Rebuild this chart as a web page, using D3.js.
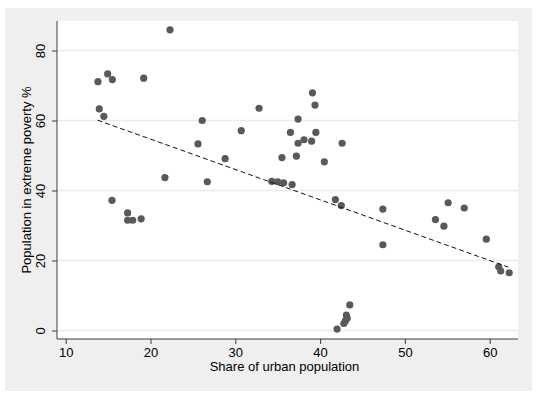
<!DOCTYPE html>
<html lang="en">
<head>
<meta charset="UTF-8">
<title>Urban share vs extreme poverty</title>
<script src="https://d3js.org/d3.v7.min.js"></script>
<style>
    body { margin: 0; background: #fff; }
    text { font-family: "Liberation Sans", Arial, sans-serif; fill: #000; }
    .axis path, .axis line { stroke: #3c3c3c; }
    .axis text { font-size: 13px; }
</style>
</head>
<body>
<svg width="539" height="398"></svg>
<script>
// share of urban population (x) and population in extreme poverty % (y)
const urban = [
    22.3, 14.95, 13.8, 15.5, 19.2, 13.96, 14.5, 26.1,
    21.7, 26.7, 15.46, 17.3, 17.3, 17.9, 18.9,
    25.6, 32.8, 30.7, 28.8, 39.1, 39.4, 37.4, 36.5, 39.5, 37.4,
    38.1, 39.0, 42.6, 35.5, 37.2, 40.5, 34.3, 35.0, 35.7, 36.7,
    41.8, 42.5, 47.4, 47.4, 43.5, 43.1, 43.2, 43.0, 42.8, 42.0,
    55.1, 57.0, 53.6, 54.6, 59.6, 61.06, 61.3, 62.3
];
const poverty = [
    85.9, 73.3, 71.1, 71.7, 72.1, 63.3, 61.2, 60.0,
    43.7, 42.5, 37.2, 33.6, 31.5, 31.5, 31.9,
    53.3, 63.5, 57.1, 49.1, 67.9, 64.4, 60.4, 56.6, 56.6, 53.5,
    54.5, 54.1, 53.5, 49.4, 49.8, 48.2, 42.6, 42.5, 42.2, 41.7,
    37.4, 35.7, 34.7, 24.5, 7.3, 4.4, 3.5, 2.8, 2.0, 0.4,
    36.5, 35.0, 31.7, 29.8, 26.1, 18.2, 17.0, 16.5
];
// fitted values at the ends of the linear fit
const fitX = [13.75, 62.2];
const fitY = [60.1, 18.1];

const xTicks = [10, 20, 30, 40, 50, 60];
const yTicks = [0, 20, 40, 60, 80];

const svg = d3.select("svg");

// outer gray panel
svg.append("rect")
    .attr("x", 5).attr("y", 8)
    .attr("width", 527).attr("height", 383)
    .attr("fill", "#efefef");

const plot = {left: 57, right: 518, top: 21, bottom: 339};

svg.append("rect")
    .attr("x", plot.left).attr("y", plot.top)
    .attr("width", plot.right - plot.left)
    .attr("height", plot.bottom - plot.top)
    .attr("fill", "#fff");

const x = d3.scaleLinear()
    .domain([10, 60])
    .range([65.7, 489.7]);

const y = d3.scaleLinear()
    .domain([0, 80])
    .range([330.5, 50.5]);

// grid
svg.append("g")
    .selectAll("line")
    .data(yTicks)
    .join("line")
    .attr("x1", plot.left).attr("x2", plot.right)
    .attr("y1", d => y(d)).attr("y2", d => y(d))
    .attr("stroke", "#eaeaea")
    .attr("stroke-width", 1.5);

// axes
const yAxis = svg.append("g")
    .attr("class", "axis")
    .attr("transform", `translate(${plot.left},0)`)
    .call(d3.axisLeft(y).tickValues(yTicks).tickSize(5).tickPadding(0));
yAxis.select(".domain").attr("d", `M0,${plot.top}V${plot.bottom}`);
yAxis.selectAll(".tick text")
    .attr("transform", "translate(-12,0) rotate(-90)")
    .attr("x", 0).attr("y", 0).attr("dy", 0)
    .attr("text-anchor", "middle");

const xAxis = svg.append("g")
    .attr("class", "axis")
    .attr("transform", `translate(0,${plot.bottom})`)
    .call(d3.axisBottom(x).tickValues(xTicks).tickSize(5).tickPadding(4));
xAxis.select(".domain").attr("d", `M${plot.left},0H${plot.right}`);

// axis titles
svg.append("text")
    .attr("x", (plot.left + plot.right) / 2 - 3)
    .attr("y", 371)
    .attr("text-anchor", "middle")
    .attr("font-size", "13px")
    .text("Share of urban population");

svg.append("text")
    .attr("transform", `translate(31,${(plot.top + plot.bottom) / 2}) rotate(-90)`)
    .attr("text-anchor", "middle")
    .attr("font-size", "13px")
    .text("Population in extreme poverty %");

// points
svg.append("g")
    .selectAll("circle")
    .data(urban)
    .join("circle")
    .attr("cx", d => x(d))
    .attr("cy", (d, i) => y(poverty[i]))
    .attr("r", 3.6)
    .attr("fill", "#595959");

// fitted line
svg.append("path")
    .datum(fitX.map((d, i) => [d, fitY[i]]))
    .attr("fill", "none")
    .attr("stroke", "#111")
    .attr("stroke-width", 1)
    .attr("stroke-dasharray", "5,3")
    .attr("d", d3.line().x(d => x(d[0])).y(d => y(d[1])));
</script>
</body>
</html>
